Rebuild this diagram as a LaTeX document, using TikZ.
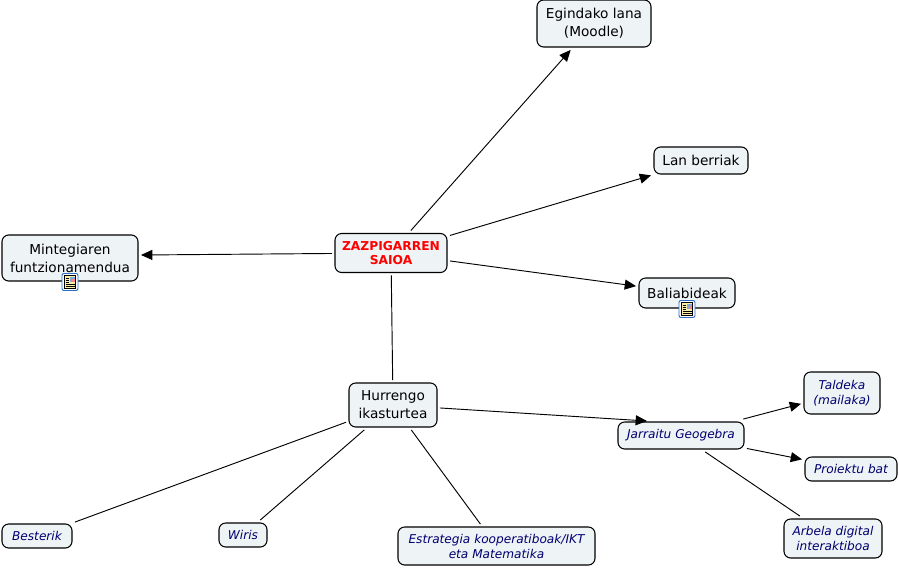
\documentclass[tikz,border=0pt]{standalone}
\usepackage{fontspec}
\setmainfont{DejaVu Sans}
\usepackage{xcolor}
\usetikzlibrary{arrows.meta}
\definecolor{cardFill}{RGB}{238,243,246}
\definecolor{cardText}{RGB}{0,0,110}
\definecolor{iconBlue}{RGB}{40,110,200}
\definecolor{iconPage}{RGB}{250,240,170}

\begin{document}
\begin{tikzpicture}[
  x=0.75pt, y=-0.75pt,
  >={Triangle[length=8.5pt,width=7.5pt]},
  card/.style={draw=black, fill=cardFill, rounded corners=5pt, line width=0.8pt,
               align=center, inner sep=0pt, outer sep=2.2pt, text=black,
               font=\fontsize{10.25}{13.5}\selectfont},
  subCard/.style={card, text=cardText, font=\fontsize{9.1}{11.25}\selectfont\itshape},
  rootCard/.style={card, text=red, font=\fontsize{9.2}{11}\selectfont\bfseries},
  link/.style={line width=0.7pt, black},
  linkTo/.style={link, ->},
  docIcon/.pic={
    \draw[iconBlue, fill=white, line width=0.7pt, rounded corners=1.5pt] (-8,-8.5) rectangle (8,8.5);
    \draw[black, fill=iconPage, line width=0.4pt] (-5.5,-6.5) rectangle (5.5,6.5);
    \fill[iconBlue!60] (0,-5.5) rectangle (4.5,-0.5);
    \fill[red!50] (2,-3) rectangle (4.5,-0.5);
    \foreach \yy in {-4,-2,0} \draw[black, line width=0.4pt] (-4.5,\yy) -- (-1,\yy);
    \foreach \yy in {2,4} \draw[black, line width=0.4pt] (-4.5,\yy) -- (4.5,\yy);
  }
]
  \useasboundingbox (0,0) rectangle (899,568);

  % Central topic
  \node[rootCard, minimum width=84pt, minimum height=29.25pt] (saioa) at (391,253) {ZAZPIGARREN\\SAIOA};

  % First level
  \node[card, minimum width=85.5pt, minimum height=35.25pt] (egindako) at (594,23.5) {Egindako lana\\(Moodle)};
  \node[card, minimum width=70.5pt, minimum height=20.25pt] (lan) at (701,160.5) {Lan berriak};
  \node[card, minimum width=72pt, minimum height=22.5pt] (baliabide) at (687,293) {Baliabideak};
  \node[card, minimum width=102pt, minimum height=34.5pt] (mintegi) at (70,258) {Mintegiaren\\funtzionamendua};
  \node[card, minimum width=66pt, minimum height=33pt] (hurrengo) at (393,405) {Hurrengo\\ikasturtea};

  % Second level
  \node[subCard, minimum width=94.5pt, minimum height=20.25pt] (geogebra) at (681,435.5) {Jarraitu Geogebra};
  \node[subCard, minimum width=52.5pt, minimum height=18pt] (besterik) at (37,536) {Besterik};
  \node[subCard, minimum width=36pt, minimum height=18pt] (wiris) at (243,535) {Wiris};
  \node[subCard, minimum width=147.75pt, minimum height=28.5pt] (estrategia) at (496.5,546) {Estrategia kooperatiboak/IKT\\eta Matematika};

  % Third level
  \node[subCard, minimum width=57pt, minimum height=31.5pt] (taldeka) at (842,393) {Taldeka\\(mailaka)};
  \node[subCard, minimum width=69pt, minimum height=18pt] (proiektu) at (851,469) {Proiektu bat};
  \node[subCard, minimum width=73.5pt, minimum height=29.25pt] (arbela) at (833,538.5) {Arbela digital\\interaktiboa};

  % Resource icons on the cards
  \pic at (70,282) {docIcon};
  \pic at (687,309) {docIcon};

  % Free arrow ends, just off the cards
  \coordinate (geogebraTip) at (647,421);
  \coordinate (mintegiTip) at (141,255);

  % Connectors from the centre
  \draw[linkTo] (saioa) -- (egindako);
  \draw[linkTo] (saioa) -- (lan);
  \draw[linkTo] (saioa) -- (baliabide);
  \draw[linkTo] (saioa) -- (mintegiTip);
  \draw[link] (saioa) -- (hurrengo);

  % Connectors from Hurrengo
  \draw[linkTo] (hurrengo) -- (geogebraTip);
  \draw[link] (hurrengo) -- (besterik);
  \draw[link] (hurrengo) -- (wiris);
  \draw[link] (hurrengo) -- (estrategia);

  % Connectors from Geogebra
  \draw[linkTo] (geogebra) -- (taldeka);
  \draw[linkTo] (geogebra) -- (proiektu);
  \draw[link] (geogebra) -- (arbela);
\end{tikzpicture}
\end{document}
